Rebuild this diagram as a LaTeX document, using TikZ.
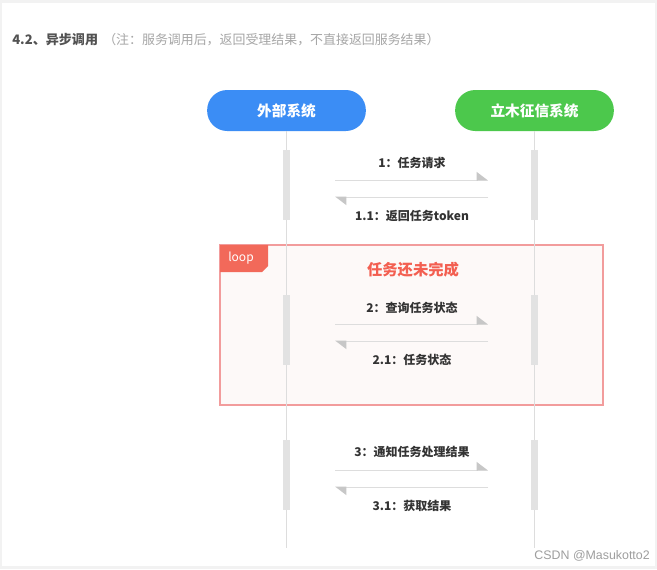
\documentclass[tikz,border=0pt]{standalone}
\usepackage{fontspec}
\setmainfont{Noto Sans CJK SC}
\newfontfamily\wmfont{Liberation Sans}
\usetikzlibrary{arrows.meta, positioning}
\definecolor{pillblue}{HTML}{3B8DF5}
\definecolor{pillgreen}{HTML}{4CC84C}
\definecolor{loopred}{HTML}{F2695A}
\definecolor{loopline}{HTML}{F29C9C}
\definecolor{loopfill}{HTML}{FDF9F8}
\definecolor{lifegray}{HTML}{DDDDDD}
\definecolor{bargray}{HTML}{E2E2E2}
\definecolor{textgray}{HTML}{333333}

\begin{document}
\begin{tikzpicture}[
    x=0.75pt, y=-0.75pt,
    pill/.style={rectangle, rounded corners=15pt, minimum width=119pt, minimum height=30.75pt,
        text=white, font=\bfseries\fontsize{11}{13}\selectfont},
    lifeline/.style={draw=lifegray, line width=0.9pt},
    actbar/.style={rectangle, fill=bargray, minimum width=5pt, minimum height=52.5pt, inner sep=0pt},
    msg/.style={draw=lifegray, line width=0.75pt,
        -{Triangle[harpoon, length=8pt, width=12pt, color=black!22]}},
    msglabel/.style={text=textgray, font=\bfseries\fontsize{9}{11}\selectfont, inner sep=1pt}
]
    % Canvas
    \useasboundingbox (0,0) rectangle (657,569);
    \fill[black!5] (0,0) rectangle (657,569);
    \fill[white] (2,3) rectangle (655,566);

    % Heading
    \node[anchor=west, inner sep=0pt, text=black!68, font=\bfseries\fontsize{9.8}{12}\selectfont] (title) at (12,40) {4.2、异步调用};
    \node[anchor=west, inner sep=0pt, text=black!35, font=\fontsize{9.7}{12}\selectfont] (note) at (103,40) {（注：服务调用后，返回受理结果，不直接返回服务结果）};

    % Loop frame
    \draw[loopline, fill=loopfill, line width=0.85pt] (220,245) rectangle (603,405);
    \fill[loopred] (220,245) -- (268,245) -- (268,266) -- (262,272) -- (220,272) -- cycle;
    \node[text=white, font=\fontsize{9}{11}\selectfont, inner sep=0pt] (looptag) at (241,258) {loop};
    \node[text=loopred!90!red, font=\bfseries\fontsize{11.5}{13}\selectfont] (cond) at (413,270) {任务还未完成};

    % Participants
    \node[pill, fill=pillblue] (ext) at (286.5,110.5) {外部系统};
    \node[pill, fill=pillgreen] (lm) at (534.5,110.5) {立木征信系统};
    \coordinate (extend) at (286.5,548);
    \coordinate (lmend) at (534.5,548);
    \draw[lifeline] (ext) -- (extend);
    \draw[lifeline] (lm) -- (lmend);

    % Activation bars
    \node[actbar] (extact1) at (286.5,185) {};
    \node[actbar] (lmact1) at (534.5,185) {};
    \node[actbar] (extact2) at (286.5,330) {};
    \node[actbar] (lmact2) at (534.5,330) {};
    \node[actbar] (extact3) at (286.5,475) {};
    \node[actbar] (lmact3) at (534.5,475) {};

    % Task request
    \coordinate (req1a) at (335,180);
    \coordinate (req1b) at (488,180);
    \coordinate (ret1a) at (488,197);
    \coordinate (ret1b) at (335,197);
    \draw[msg] (req1a) -- (req1b);
    \draw[msg] (ret1a) -- (ret1b);
    \node[msglabel] (req1) at (412,163) {1：任务请求};
    \node[msglabel] (ret1) at (412,216) {1.1：返回任务token};

    % Status query
    \coordinate (req2a) at (335,324);
    \coordinate (req2b) at (488,324);
    \coordinate (ret2a) at (488,341);
    \coordinate (ret2b) at (335,341);
    \draw[msg] (req2a) -- (req2b);
    \draw[msg] (ret2a) -- (ret2b);
    \node[msglabel] (req2) at (412,308) {2：查询任务状态};
    \node[msglabel] (ret2) at (412,360) {2.1：任务状态};

    % Result notice
    \coordinate (req3a) at (335,470);
    \coordinate (req3b) at (488,470);
    \coordinate (ret3a) at (488,487);
    \coordinate (ret3b) at (335,487);
    \draw[msg] (req3a) -- (req3b);
    \draw[msg] (ret3a) -- (ret3b);
    \node[msglabel] (req3) at (412,452) {3：通知任务处理结果};
    \node[msglabel] (ret3) at (412,506) {3.1：获取结果};

    % Watermark
    \node[anchor=east, inner sep=0pt, text=black!38, font=\wmfont\fontsize{9.3}{11}\selectfont] (wm) at (650,556) {CSDN @Masukotto2};
\end{tikzpicture}
\end{document}
